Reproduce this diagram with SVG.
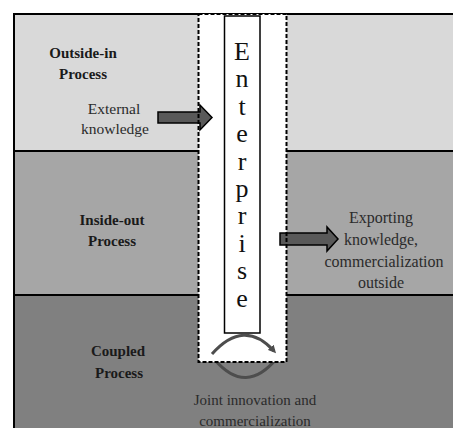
<svg xmlns="http://www.w3.org/2000/svg" width="453" height="428" viewBox="0 0 453 428">
<style>
.bold{font-family:"Liberation Serif",serif;font-weight:bold;font-size:15px;fill:#1a1a1a;text-anchor:middle}
.reg{font-family:"Liberation Serif",serif;font-size:15.5px;fill:#2b2b2b;text-anchor:middle}
.big{font-family:"Liberation Serif",serif;font-size:26px;fill:#111;text-anchor:middle}
.line{stroke:#000;stroke-width:2}
.arrow{fill:#595959;stroke:#000;stroke-width:1.5}
.arc{fill:none;stroke:#4d4d4d;stroke-width:3}
</style>
<defs>
<marker id="head" viewBox="0 0 8 8" refX="5" refY="4" markerWidth="8" markerHeight="8" markerUnits="userSpaceOnUse" orient="auto">
<path d="M0,0 L8,4 L0,8 Z" fill="#4d4d4d"/>
</marker>
</defs>
<rect width="453" height="428" fill="#ffffff"/>
<g id="band-outside-in">
<rect x="14" y="14" width="439" height="137" fill="#d9d9d9"/>
<text class="bold" x="83" y="58">Outside-in</text>
<text class="bold" x="83" y="79">Process</text>
<text class="reg" x="114" y="114">External</text>
<text class="reg" x="115" y="134">knowledge</text>
</g>
<g id="band-inside-out">
<rect x="14" y="151" width="439" height="144" fill="#a6a6a6"/>
<text class="bold" x="112" y="225">Inside-out</text>
<text class="bold" x="112" y="246">Process</text>
<text class="reg" x="381" y="223" style="font-size:16px">Exporting</text>
<text class="reg" x="381" y="245" style="font-size:16px">knowledge,</text>
<text class="reg" x="384" y="267" style="font-size:16px">commercialization</text>
<text class="reg" x="381" y="288" style="font-size:16px">outside</text>
</g>
<g id="band-coupled">
<rect x="14" y="295" width="439" height="133" fill="#808080"/>
<text class="bold" x="118" y="356">Coupled</text>
<text class="bold" x="119" y="378">Process</text>
<text class="reg" x="255" y="405" style="font-size:15px">Joint innovation and</text>
<text class="reg" x="255" y="426" style="font-size:15px">commercialization</text>
</g>
<g id="frame">
<line class="line" x1="14" y1="14" x2="453" y2="14"/>
<line class="line" x1="14" y1="13" x2="14" y2="428"/>
<line class="line" x1="14" y1="151" x2="453" y2="151"/>
<line class="line" x1="14" y1="295" x2="453" y2="295"/>
</g>
<g id="connectors">
<path class="arc" d="M277,358 Q246,396 215,360"/>
</g>
<g id="enterprise-column">
<rect x="198.5" y="14" width="88" height="348" fill="#ffffff"/>
</g>
<g id="arrows">
<path class="arrow" d="M158,112 H200 V105 L212,117.5 L200,130 V123 H158 Z"/>
<path class="arrow" d="M280,233 H327 V227 L338,239 L327,251 V245 H280 Z"/>
</g>
<g id="column-border">
<rect x="198.5" y="14" width="88" height="348" fill="none" stroke="#000" stroke-width="2" stroke-dasharray="4,2"/>
</g>
<g id="enterprise">
<rect x="224.5" y="16" width="35.5" height="317" fill="#ffffff" stroke="#000" stroke-width="1.5"/>
<text class="big" x="242" y="60">E</text>
<text class="big" x="242" y="87.4">n</text>
<text class="big" x="242" y="114.8">t</text>
<text class="big" x="242" y="142.2">e</text>
<text class="big" x="242" y="169.6">r</text>
<text class="big" x="242" y="197">p</text>
<text class="big" x="242" y="224.4">r</text>
<text class="big" x="242" y="251.8">i</text>
<text class="big" x="242" y="279.2">s</text>
<text class="big" x="242" y="306.6">e</text>
</g>
<g id="cycle-arrow">
<path class="arc" d="M212,354 Q244,318 274,351" marker-end="url(#head)"/>
</g>
</svg>
